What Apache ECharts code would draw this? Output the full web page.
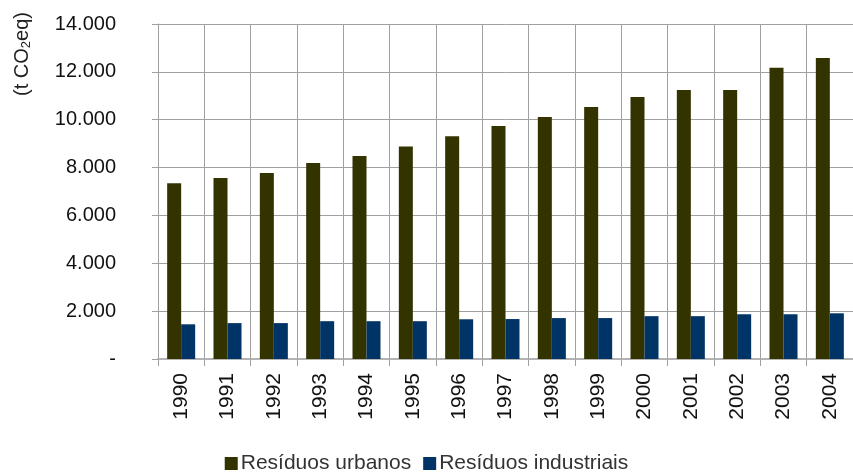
<!DOCTYPE html>
<html>
<head>
<meta charset="utf-8">
<script src="https://cdn.jsdelivr.net/npm/echarts@6/dist/echarts.min.js"></script>
<style>
  html, body { margin: 0; padding: 0; background: #fff; }
  #chart { width: 853px; height: 472px; }
</style>
</head>
<body>
<div id="chart"></div>
<script>
const years = ['1990', '1991', '1992', '1993', '1994', '1995', '1996', '1997', '1998', '1999', '2000', '2001', '2002', '2003', '2004']
const urbanos = [7350, 7560, 7770, 8190, 8480, 8880, 9310, 9740, 10110, 10530, 10950, 11240, 11240, 12170, 12580]
const industriais = [1450, 1500, 1500, 1580, 1580, 1580, 1660, 1670, 1710, 1710, 1790, 1790, 1870, 1870, 1910]
const seriesNames = ['Resíduos urbanos', 'Resíduos industriais']

const font = '"Liberation Sans", Arial, sans-serif'
const grid = '#a0a0a0'

function fmt(v) {
  if (v === 0) return '-'
  return String(v).replace(/\B(?=(\d{3})+(?!\d))/g, '.')
}

const chart = echarts.init(document.getElementById('chart'))
chart.setOption({
  backgroundColor: '#fff',
  animation: false,
  textStyle: { fontFamily: font },
  grid: { left: 158, right: 0, top: 24, bottom: 113 },
  legend: {
    bottom: -7,
    left: 'center',
    itemWidth: 13,
    itemHeight: 13,
    itemGap: 12,
    icon: 'rect',
    textStyle: { fontSize: 21, color: '#333', fontFamily: font, padding: [0, 0, 0, -2] },
    data: seriesNames,
  },
  graphic: [{
    type: 'text',
    x: 22,
    y: 54,
    rotation: Math.PI / 2,
    style: {
      text: '{a|(t CO}{b|2}{a|eq)}',
      align: 'center',
      verticalAlign: 'middle',
      rich: {
        a: { fontSize: 20, fill: '#222', fontFamily: font },
        b: { fontSize: 13, fill: '#222', fontFamily: font, padding: [9, 0, 0, 0] },
      },
    },
  }],
  xAxis: {
    type: 'category',
    data: years,
    axisLine: { show: true, lineStyle: { color: '#b3b3b3', width: 2 } },
    axisTick: { show: true, length: 7, lineStyle: { color: grid } },
    axisLabel: { rotate: 90, margin: 14, fontSize: 21, color: '#111', fontFamily: font },
    splitLine: { show: true, lineStyle: { color: grid, width: 1 } },
  },
  yAxis: {
    type: 'value',
    min: 0,
    max: 14000,
    interval: 2000,
    axisLine: { show: true, lineStyle: { color: grid } },
    axisTick: { show: true, length: 6, lineStyle: { color: grid } },
    axisLabel: { formatter: fmt, margin: 42, fontSize: 20, color: '#111', fontFamily: font },
    splitLine: { show: true, lineStyle: { color: grid, width: 1 } },
  },
  series: [
    {
      name: seriesNames[0],
      type: 'bar',
      data: urbanos,
      itemStyle: { color: '#333300' },
      barWidth: 14,
      barGap: '0%',
    },
    {
      name: seriesNames[1],
      type: 'bar',
      data: industriais,
      itemStyle: { color: '#003366' },
      barWidth: 14,
      barGap: '0%',
    },
  ],
})
</script>
</body>
</html>
